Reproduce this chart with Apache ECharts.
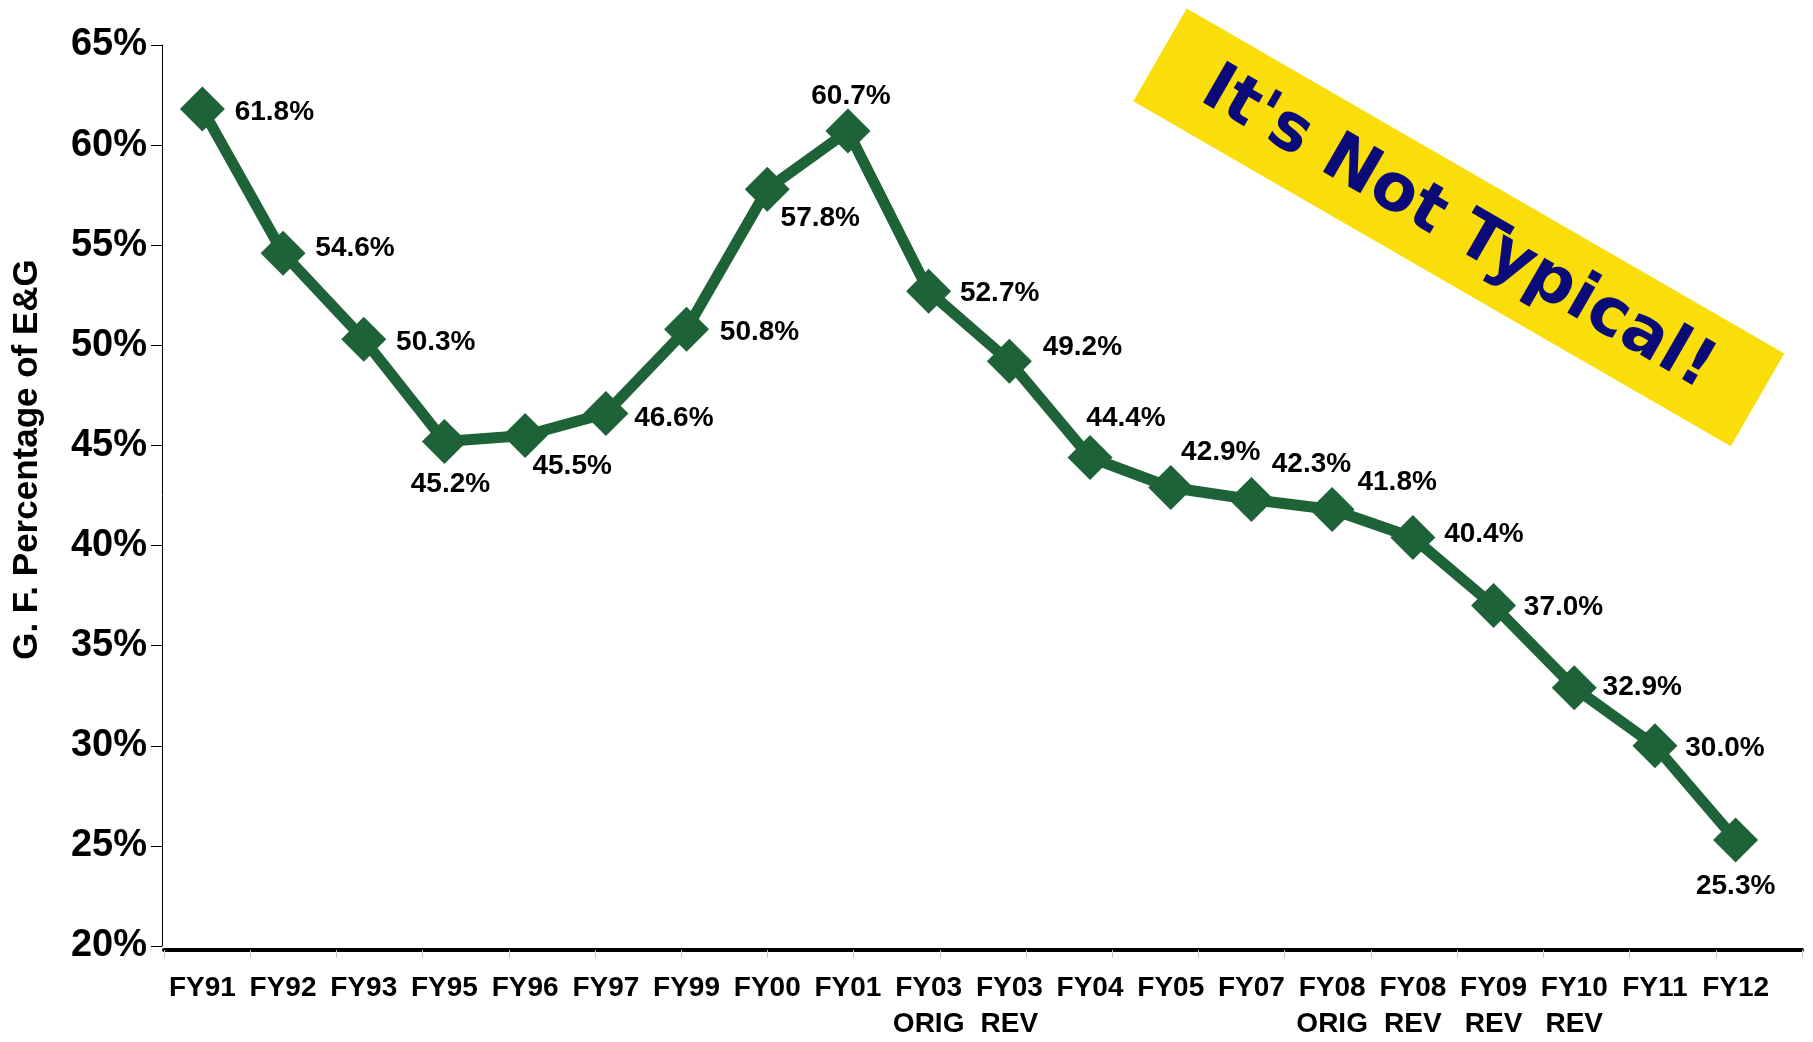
<!DOCTYPE html>
<html>
<head>
<meta charset="utf-8">
<title>G. F. Percentage of E&G</title>
<script src="https://cdn.jsdelivr.net/npm/echarts@6/dist/echarts.min.js"></script>
<style>
  html, body { margin: 0; padding: 0; background: #fff; }
  #chart { width: 1813px; height: 1042px; }
</style>
</head>
<body>
<div id="chart"></div>
<script>
// categories along the bottom
const years = ['FY91', 'FY92', 'FY93', 'FY95', 'FY96', 'FY97', 'FY99', 'FY00', 'FY01',
  'FY03\nORIG', 'FY03\nREV', 'FY04', 'FY05', 'FY07', 'FY08\nORIG', 'FY08\nREV',
  'FY09\nREV', 'FY10\nREV', 'FY11', 'FY12'];

// general fund share of E&G, in percent
const gfShare = [61.8, 54.6, 50.3, 45.2, 45.5, 46.6, 50.8, 57.8, 60.7, 52.7,
  49.2, 44.4, 42.9, 42.3, 41.8, 40.4, 37.0, 32.9, 30.0, 25.3];

const yTicks = { min: 20, max: 65, step: 5 };

// where each value label sits relative to its marker (px)
const labelShift = [
  [72, 3], [72, -5], [72, 3], [6, 43], [47, 31], [68, 5], [73, 3], [53, 29], [3, -35],
  [71, 2], [73, -14], [36, -39], [50, -35], [60, -35], [65, -27], [71, -3],
  [70, 2], [68, 0], [70, 3], [0, 46]
];

const green = '#1e6238';
const font = "'Liberation Sans', Arial, sans-serif";

const chart = echarts.init(document.getElementById('chart'));

chart.setOption({
  backgroundColor: '#fff',
  animation: false,
  grid: [
    { left: 162, top: 45, width: 1614, bottom: 92 },
    // the bottom rule of the original runs a bit further than the plot
    { left: 164, top: 45, right: 11, bottom: 92 }
  ],
  xAxis: [{
    type: 'category',
    data: years,
    boundaryGap: true,
    axisLine: { show: false },
    axisTick: { show: false },
    axisLabel: {
      interval: 0,
      margin: 24,
      color: '#000',
      fontFamily: font,
      fontWeight: 'bold',
      fontSize: 28,
      lineHeight: 36
    },
    splitLine: { show: false }
  }, {
    type: 'value',
    gridIndex: 1,
    min: 0,
    max: years.length - 1,
    interval: 1,
    axisLine: { lineStyle: { color: '#000', width: 4 } },
    axisTick: { show: true, length: 8, lineStyle: { color: '#c8c8c8', width: 1 } },
    axisLabel: { show: false },
    splitLine: { show: false }
  }],
  yAxis: [{
    type: 'value',
    min: yTicks.min,
    max: yTicks.max,
    interval: yTicks.step,
    name: 'G. F. Percentage of E&G',
    nameLocation: 'middle',
    nameGap: 117,
    nameTextStyle: {
      color: '#000',
      fontFamily: font,
      fontWeight: 'bold',
      fontSize: 35,
      padding: [0, 0, 0, 72]
    },
    axisLine: { show: true, lineStyle: { color: '#000', width: 1 } },
    axisTick: { show: true, length: 11, lineStyle: { color: '#000', width: 1 } },
    axisLabel: {
      formatter: '{value}%',
      margin: 15,
      color: '#000',
      fontFamily: font,
      fontWeight: 'bold',
      fontSize: 38
    },
    splitLine: { show: false }
  }, {
    type: 'value',
    gridIndex: 1,
    min: yTicks.min,
    max: yTicks.max,
    show: false
  }],
  series: [{
    type: 'line',
    data: gfShare.map((v, i) => ({
      value: v,
      label: { offset: labelShift[i] }
    })),
    symbol: 'diamond',
    symbolSize: 45,
    lineStyle: { color: green, width: 11 },
    itemStyle: { color: green },
    label: {
      show: true,
      position: 'inside',
      align: 'center',
      verticalAlign: 'middle',
      formatter: p => p.value.toFixed(1) + '%',
      color: '#000',
      fontFamily: font,
      fontWeight: 'bold',
      fontSize: 28
    },
    z: 3
  }],
  graphic: [{
    type: 'group',
    x: 1459,
    y: 227,
    rotation: -Math.PI / 6,
    children: [{
      type: 'rect',
      shape: { x: -345, y: -53, width: 690, height: 107 },
      style: { fill: '#f9de0a' }
    }, {
      type: 'text',
      style: {
        text: "It's Not Typical!",
        x: 0,
        y: 3,
        align: 'center',
        verticalAlign: 'middle',
        fill: '#0a0a78',
        font: "bold 66px 'DejaVu Sans', sans-serif"
      }
    }]
  }]
});
</script>
</body>
</html>
